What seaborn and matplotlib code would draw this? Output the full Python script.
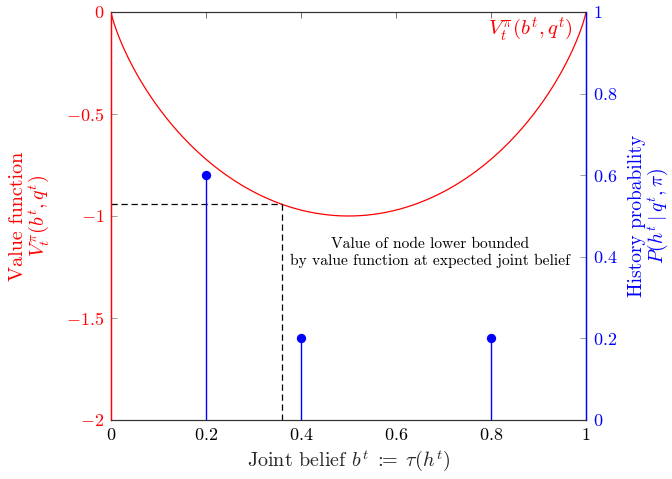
import numpy as np
import pandas as pd
import matplotlib
matplotlib.use("Agg")
import matplotlib.pyplot as plt
import seaborn as sns

# History beliefs and their probabilities
beliefs = [0.2, 0.4, 0.8]
probabilities = [0.6, 0.2, 0.2]

x_ticks = [0, 0.2, 0.4, 0.6, 0.8, 1]
value_ticks = [-2, -1.5, -1, -0.5, 0]
prob_ticks = [0, 0.2, 0.4, 0.6, 0.8, 1]


def value_function(b):
    """Negative binary entropy (bits) of the joint belief."""
    b = np.clip(np.asarray(b, dtype=float), 1e-12, 1 - 1e-12)
    return b * np.log2(b) + (1 - b) * np.log2(1 - b)


sns.set_theme(style="white")
plt.rcParams["font.family"] = ["cmr10", "DejaVu Serif"]
plt.rcParams["mathtext.fontset"] = "cm"
plt.rcParams["axes.formatter.use_mathtext"] = True

RED = (1, 0, 0)
BLUE = (0, 0, 1)

fig = plt.figure(figsize=(6.72, 4.79), dpi=100)
ax = fig.add_axes([111 / 672, 1 - 420 / 479, 475 / 672, 408 / 479])
ax2 = ax.twinx()

# value function curve
grid = np.linspace(0, 1, 801)
curve = pd.DataFrame({"b": grid, "V": value_function(grid)})
sns.lineplot(data=curve, x="b", y="V", ax=ax, color=RED, linewidth=0.9)

# expected joint belief and its bound
b_exp = float(np.dot(beliefs, probabilities))
v_exp = float(value_function(b_exp))
ax.plot([0, b_exp], [v_exp, v_exp], color="black", linestyle=(0, (5, 3)), linewidth=0.9)
ax.plot([b_exp, b_exp], [v_exp, -2], color="black", linestyle=(0, (5, 3)), linewidth=0.9)

ax.text(0.672, -1.18, "Value of node lower bounded\nby value function at expected joint belief",
        ha="center", va="center", fontsize=11.2, linespacing=1.2, color="black")
ax.text(0.972, -0.085, r"$V_t^{\pi}(b^t,q^t)$", ha="right", va="center",
        color=RED, fontsize=15)

# history probabilities as stems
stems = pd.DataFrame({"b": beliefs, "p": probabilities})
ax2.vlines(stems["b"], 0, stems["p"], color=BLUE, linewidth=1.0)
sns.scatterplot(data=stems, x="b", y="p", ax=ax2, color=BLUE, s=45,
                edgecolor=BLUE, linewidth=0, zorder=5)

ax.set_xlim(0, 1)
ax.set_ylim(-2, 0)
ax2.set_ylim(0, 1)

ax.set_xticks(x_ticks)
ax.set_xticklabels([f"${v:g}$" for v in x_ticks])
ax.set_yticks(value_ticks)
ax.set_yticklabels([f"${v:g}$" for v in value_ticks])
ax2.set_yticks(prob_ticks)
ax2.set_yticklabels([f"${v:g}$" for v in prob_ticks])

ax.tick_params(axis="x", direction="in", top=True, length=4, width=0.6,
               color="0.35", labelsize=13, labelcolor="black", pad=5)
ax.tick_params(axis="y", direction="in", length=4, width=0.6,
               color="0.55", labelsize=13, labelcolor=RED, pad=5)
ax2.tick_params(axis="y", direction="in", length=4, width=0.6,
                color="0.55", labelsize=13, labelcolor=BLUE, pad=5)

ax.set_xlabel(r"Joint belief $b^t\;:\!\!\!=\;\tau(h^t)$", fontsize=14.5, labelpad=4)
ax.set_ylabel("Value function\n" + r"$V_t^{\pi}(b^t,q^t)$", color=RED,
              fontsize=14.5, linespacing=1.0)
ax.yaxis.set_label_coords(-0.125, 0.5)
ax2.set_ylabel("History probability\n" + r"$P(h^t \mid q^t, \pi)$", color=BLUE,
               fontsize=14, linespacing=0.95, rotation=90)
ax2.yaxis.set_label_coords(1.088, 0.5)

for a in (ax, ax2):
    for side in ("top", "bottom"):
        a.spines[side].set_color("0.2")
        a.spines[side].set_linewidth(0.8)
    a.spines["left"].set_color(RED)
    a.spines["right"].set_color(BLUE)
    a.spines["left"].set_linewidth(0.9)
    a.spines["right"].set_linewidth(0.9)
    a.grid(False)

fig.savefig("out.png", dpi=100)
